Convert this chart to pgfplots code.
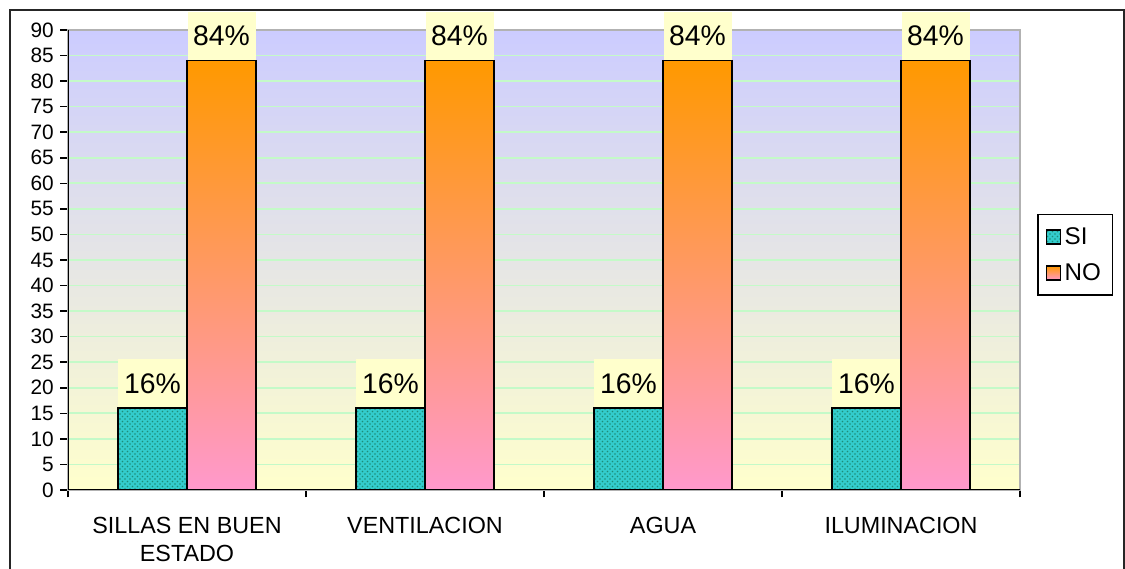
\documentclass[border=0pt]{standalone}
\usepackage{fontspec}
\setmainfont{Liberation Sans}
\usepackage{pgfplots}
\pgfplotsset{compat=1.18}
\usetikzlibrary{patterns}

\definecolor{bgtop}{RGB}{204,204,255}
\definecolor{bgbot}{RGB}{255,255,204}
\definecolor{gridc}{RGB}{196,250,200}
\definecolor{siC}{RGB}{51,204,204}
\definecolor{siDot}{RGB}{30,140,120}
\definecolor{noTop}{RGB}{255,153,0}
\definecolor{noBot}{RGB}{255,153,204}
\definecolor{lblC}{RGB}{255,255,204}

\begin{document}
\begin{tikzpicture}
% frame of the whole chart (1px = 0.6pt)
\path[use as bounding box] (0pt,0pt) rectangle (675pt,341.4pt);
\draw[line width=1.2pt, black!85] (6pt,-5pt) -- (6pt,335.4pt) -- (674.4pt,335.4pt) -- (674.4pt,-5pt);
\begin{axis}[
    at={(40.8pt,47.4pt)}, anchor=south west,
    scale only axis, width=571.2pt, height=276pt,
    ybar=0pt, bar width=0.29,
    xmin=-0.5, xmax=3.5, ymin=0, ymax=90,
    xtick={-0.5,0.5,1.5,2.5,3.5},
    xticklabels={{SILLAS EN BUEN\\ESTADO},VENTILACION,AGUA,ILUMINACION},
    x tick label as interval,
    ytick={0,5,...,90},
    tick pos=left,
    tick align=outside,
    major tick length=4.5pt,
    tick style={black, line width=0.9pt},
    axis line style={gray!60, line width=0.9pt},
    ymajorgrids, grid style={gridc, line width=1pt},
    axis background/.style={top color=bgtop, bottom color=bgbot},
    /pgf/number format/assume math mode=true,
    yticklabel style={font=\fontsize{12.5}{14}\selectfont, xshift=-0.5pt},
    xticklabel style={font=\fontsize{14}{17}\selectfont, align=center, yshift=-8pt},
    nodes near coords={\pgfmathprintnumber{\pgfplotspointmeta}\%},
    every node near coord/.append style={font=\fontsize{17}{20}\selectfont,
        fill=lblC, text=black, inner sep=0pt, minimum width=40.8pt,
        minimum height=29pt, anchor=south, yshift=0pt},
    legend style={at={(1.018,0.6)}, anchor=north west, draw=black,
        line width=0.9pt, font=\fontsize{14.5}{16}\selectfont,
        row sep=6pt, inner xsep=5pt, inner ysep=5.5pt, cells={anchor=west}},
    legend image code/.code={\draw[#1, line width=0.7pt] (0pt,-4.2pt) rectangle (8.4pt,4.2pt);},
]
\addplot[draw=black, line width=0.9pt, fill=siC, bar shift=-0.145,
    postaction={pattern=crosshatch dots, pattern color=siDot}]
    coordinates {(0,16) (1,16) (2,16) (3,16)};
\addlegendentry{SI}
\addplot[draw=black, line width=0.9pt, top color=noTop, bottom color=noBot, bar shift=0.145]
    coordinates {(0,84) (1,84) (2,84) (3,84)};
\addlegendentry{NO}
\draw[black, line width=1.2pt] (rel axis cs:0,1) -- (rel axis cs:0,0) -- (rel axis cs:1,0);
\end{axis}
\end{tikzpicture}
\end{document}
